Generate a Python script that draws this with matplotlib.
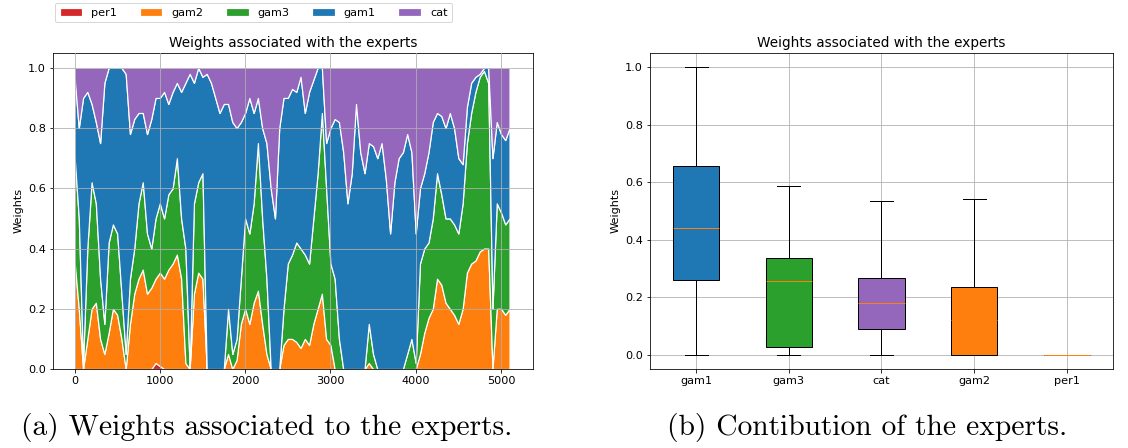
import numpy as np
import matplotlib
matplotlib.use("Agg")
import matplotlib.pyplot as plt

plt.rcParams["font.size"] = 11.3
plt.rcParams["axes.titlesize"] = 13.6

# weights of each expert, sampled every 50 steps (stack order bottom -> top)
step = 50
per1 = [0.00] * 19 + [0.02, 0.01] + [0.00] * 82
gam2 = [0.36, 0.20, 0.00, 0.10, 0.20, 0.22, 0.10, 0.05, 0.12, 0.20,
        0.18, 0.10, 0.00, 0.15, 0.25, 0.30, 0.33, 0.25, 0.27, 0.28,
        0.31, 0.30, 0.33, 0.35, 0.38, 0.30, 0.02, 0.00, 0.25, 0.32,
        0.30, 0.00, 0.00, 0.00, 0.00, 0.00, 0.05, 0.00, 0.03, 0.15,
        0.20, 0.15, 0.22, 0.26, 0.15, 0.05, 0.00, 0.00, 0.00, 0.08,
        0.10, 0.10, 0.09, 0.07, 0.10, 0.08, 0.15, 0.20, 0.25, 0.10,
        0.08, 0.00, 0.00, 0.00, 0.00, 0.00, 0.00, 0.00, 0.00, 0.02,
        0.00, 0.00, 0.00, 0.00, 0.00, 0.00, 0.00, 0.00, 0.00, 0.00,
        0.00, 0.05, 0.12, 0.17, 0.20, 0.30, 0.28, 0.22, 0.20, 0.18,
        0.15, 0.20, 0.32, 0.35, 0.36, 0.39, 0.40, 0.40, 0.00, 0.20,
        0.20, 0.18, 0.20]
gam3 = [0.35, 0.30, 0.02, 0.30, 0.42, 0.33, 0.20, 0.10, 0.30, 0.28,
        0.27, 0.15, 0.05, 0.15, 0.15, 0.25, 0.29, 0.20, 0.13, 0.20,
        0.23, 0.20, 0.25, 0.25, 0.32, 0.20, 0.38, 0.00, 0.30, 0.30,
        0.35, 0.00, 0.00, 0.00, 0.00, 0.00, 0.15, 0.05, 0.07, 0.15,
        0.30, 0.30, 0.33, 0.49, 0.35, 0.25, 0.00, 0.00, 0.00, 0.12,
        0.25, 0.28, 0.33, 0.33, 0.28, 0.27, 0.35, 0.45, 0.60, 0.50,
        0.27, 0.30, 0.10, 0.00, 0.00, 0.00, 0.00, 0.00, 0.00, 0.13,
        0.05, 0.00, 0.00, 0.00, 0.00, 0.00, 0.00, 0.00, 0.05, 0.10,
        0.02, 0.30, 0.28, 0.25, 0.30, 0.35, 0.30, 0.28, 0.30, 0.30,
        0.30, 0.35, 0.43, 0.50, 0.56, 0.58, 0.59, 0.55, 0.20, 0.35,
        0.32, 0.30, 0.30]
gam1 = [0.26, 0.30, 0.88, 0.52, 0.26, 0.27, 0.45, 0.80, 0.58, 0.52,
        0.55, 0.75, 0.93, 0.48, 0.43, 0.30, 0.23, 0.33, 0.43, 0.40,
        0.35, 0.42, 0.30, 0.32, 0.25, 0.42, 0.55, 0.98, 0.40, 0.38,
        0.32, 0.98, 0.95, 0.90, 0.85, 0.88, 0.68, 0.77, 0.70, 0.52,
        0.35, 0.45, 0.30, 0.15, 0.30, 0.45, 0.60, 0.50, 0.80, 0.70,
        0.55, 0.55, 0.50, 0.57, 0.47, 0.57, 0.46, 0.35, 0.15, 0.15,
        0.45, 0.53, 0.72, 0.72, 0.55, 0.65, 0.88, 0.72, 0.65, 0.60,
        0.69, 0.70, 0.75, 0.63, 0.45, 0.62, 0.70, 0.72, 0.73, 0.62,
        0.43, 0.25, 0.25, 0.30, 0.32, 0.20, 0.26, 0.30, 0.35, 0.32,
        0.25, 0.13, 0.12, 0.10, 0.05, 0.01, 0.01, 0.05, 0.50, 0.27,
        0.26, 0.28, 0.30]
cat = [0.03, 0.20, 0.10, 0.08, 0.12, 0.18, 0.25, 0.05, 0.00, 0.00,
       0.00, 0.00, 0.02, 0.22, 0.17, 0.15, 0.15, 0.22, 0.17, 0.10,
       0.10, 0.08, 0.12, 0.08, 0.05, 0.08, 0.05, 0.02, 0.05, 0.00,
       0.03, 0.02, 0.05, 0.10, 0.15, 0.12, 0.12, 0.18, 0.20, 0.18,
       0.15, 0.10, 0.15, 0.10, 0.20, 0.25, 0.40, 0.50, 0.20, 0.10,
       0.10, 0.07, 0.08, 0.03, 0.15, 0.08, 0.04, 0.00, 0.00, 0.25,
       0.20, 0.17, 0.18, 0.28, 0.45, 0.35, 0.12, 0.28, 0.35, 0.25,
       0.26, 0.30, 0.25, 0.37, 0.55, 0.38, 0.30, 0.28, 0.22, 0.28,
       0.55, 0.40, 0.35, 0.28, 0.18, 0.15, 0.16, 0.20, 0.15, 0.20,
       0.30, 0.32, 0.13, 0.05, 0.03, 0.02, 0.00, 0.00, 0.30, 0.18,
       0.22, 0.24, 0.20]
stack_labels = ["per1", "gam2", "gam3", "gam1", "cat"]
stack_colors = ["#d62728", "#ff7f0e", "#2ca02c", "#1f77b4", "#9467bd"]

# box statistics (right panel)
box_labels = ["gam1", "gam3", "cat", "gam2", "per1"]
box_colors = ["#1f77b4", "#2ca02c", "#9467bd", "#ff7f0e", "#d62728"]
box_q1 = [0.26, 0.025, 0.09, 0.0, 0.0]
box_med = [0.44, 0.255, 0.18, 0.12, 0.0]
box_q3 = [0.655, 0.335, 0.265, 0.235, 0.0]
box_lo = [0.0, 0.0, 0.0, 0.0, 0.0]
box_hi = [1.0, 0.585, 0.535, 0.54, 0.0]

fig = plt.figure(figsize=(1128 / 72, 448 / 72), dpi=72)

# left: stacked weights
ax1 = fig.add_axes([0.0467, 0.1763, 0.4258, 0.706])
t = np.arange(len(gam2)) * step
polys = ax1.stackplot(t, per1, gam2, gam3, gam1, cat, labels=stack_labels,
                      colors=stack_colors, edgecolor="white", linewidth=1.2)
ax1.set_xlim(-256, 5375)
ax1.set_ylim(0, 1.05)
ax1.set_ylabel("Weights")
ax1.set_title("Weights associated with the experts")
ax1.grid(True)
ax1.set_axisbelow(False)
fig.legend(polys, stack_labels, loc="center", ncol=5,
           bbox_to_anchor=(0.2248, 0.972))

# right: contribution boxplot
ax2 = fig.add_axes([0.5762, 0.1763, 0.4105, 0.706])
stats = []
for i in range(len(box_labels)):
    stats.append({"label": box_labels[i], "q1": box_q1[i], "med": box_med[i],
                  "q3": box_q3[i], "whislo": box_lo[i], "whishi": box_hi[i],
                  "fliers": []})
bp = ax2.bxp(stats, widths=0.5, patch_artist=True, showfliers=False)
for patch, c in zip(bp["boxes"], box_colors):
    patch.set_facecolor(c)
    patch.set_edgecolor("black")
for m in bp["medians"]:
    m.set_color("#ff7f0e")
    m.set_zorder(5)
ax2.set_ylim(-0.05, 1.05)
ax2.set_ylabel("Weights")
ax2.set_title("Weights associated with the experts")
ax2.grid(True)

# captions
fig.text(0.236, 0.045, "(a) Weights associated to the experts.",
         family="cmr10", fontsize=29.5, ha="center", va="center")
fig.text(0.769, 0.045, "(b) Contibution of the experts.",
         family="cmr10", fontsize=29.5, ha="center", va="center")

fig.savefig("out.png", dpi=72)
